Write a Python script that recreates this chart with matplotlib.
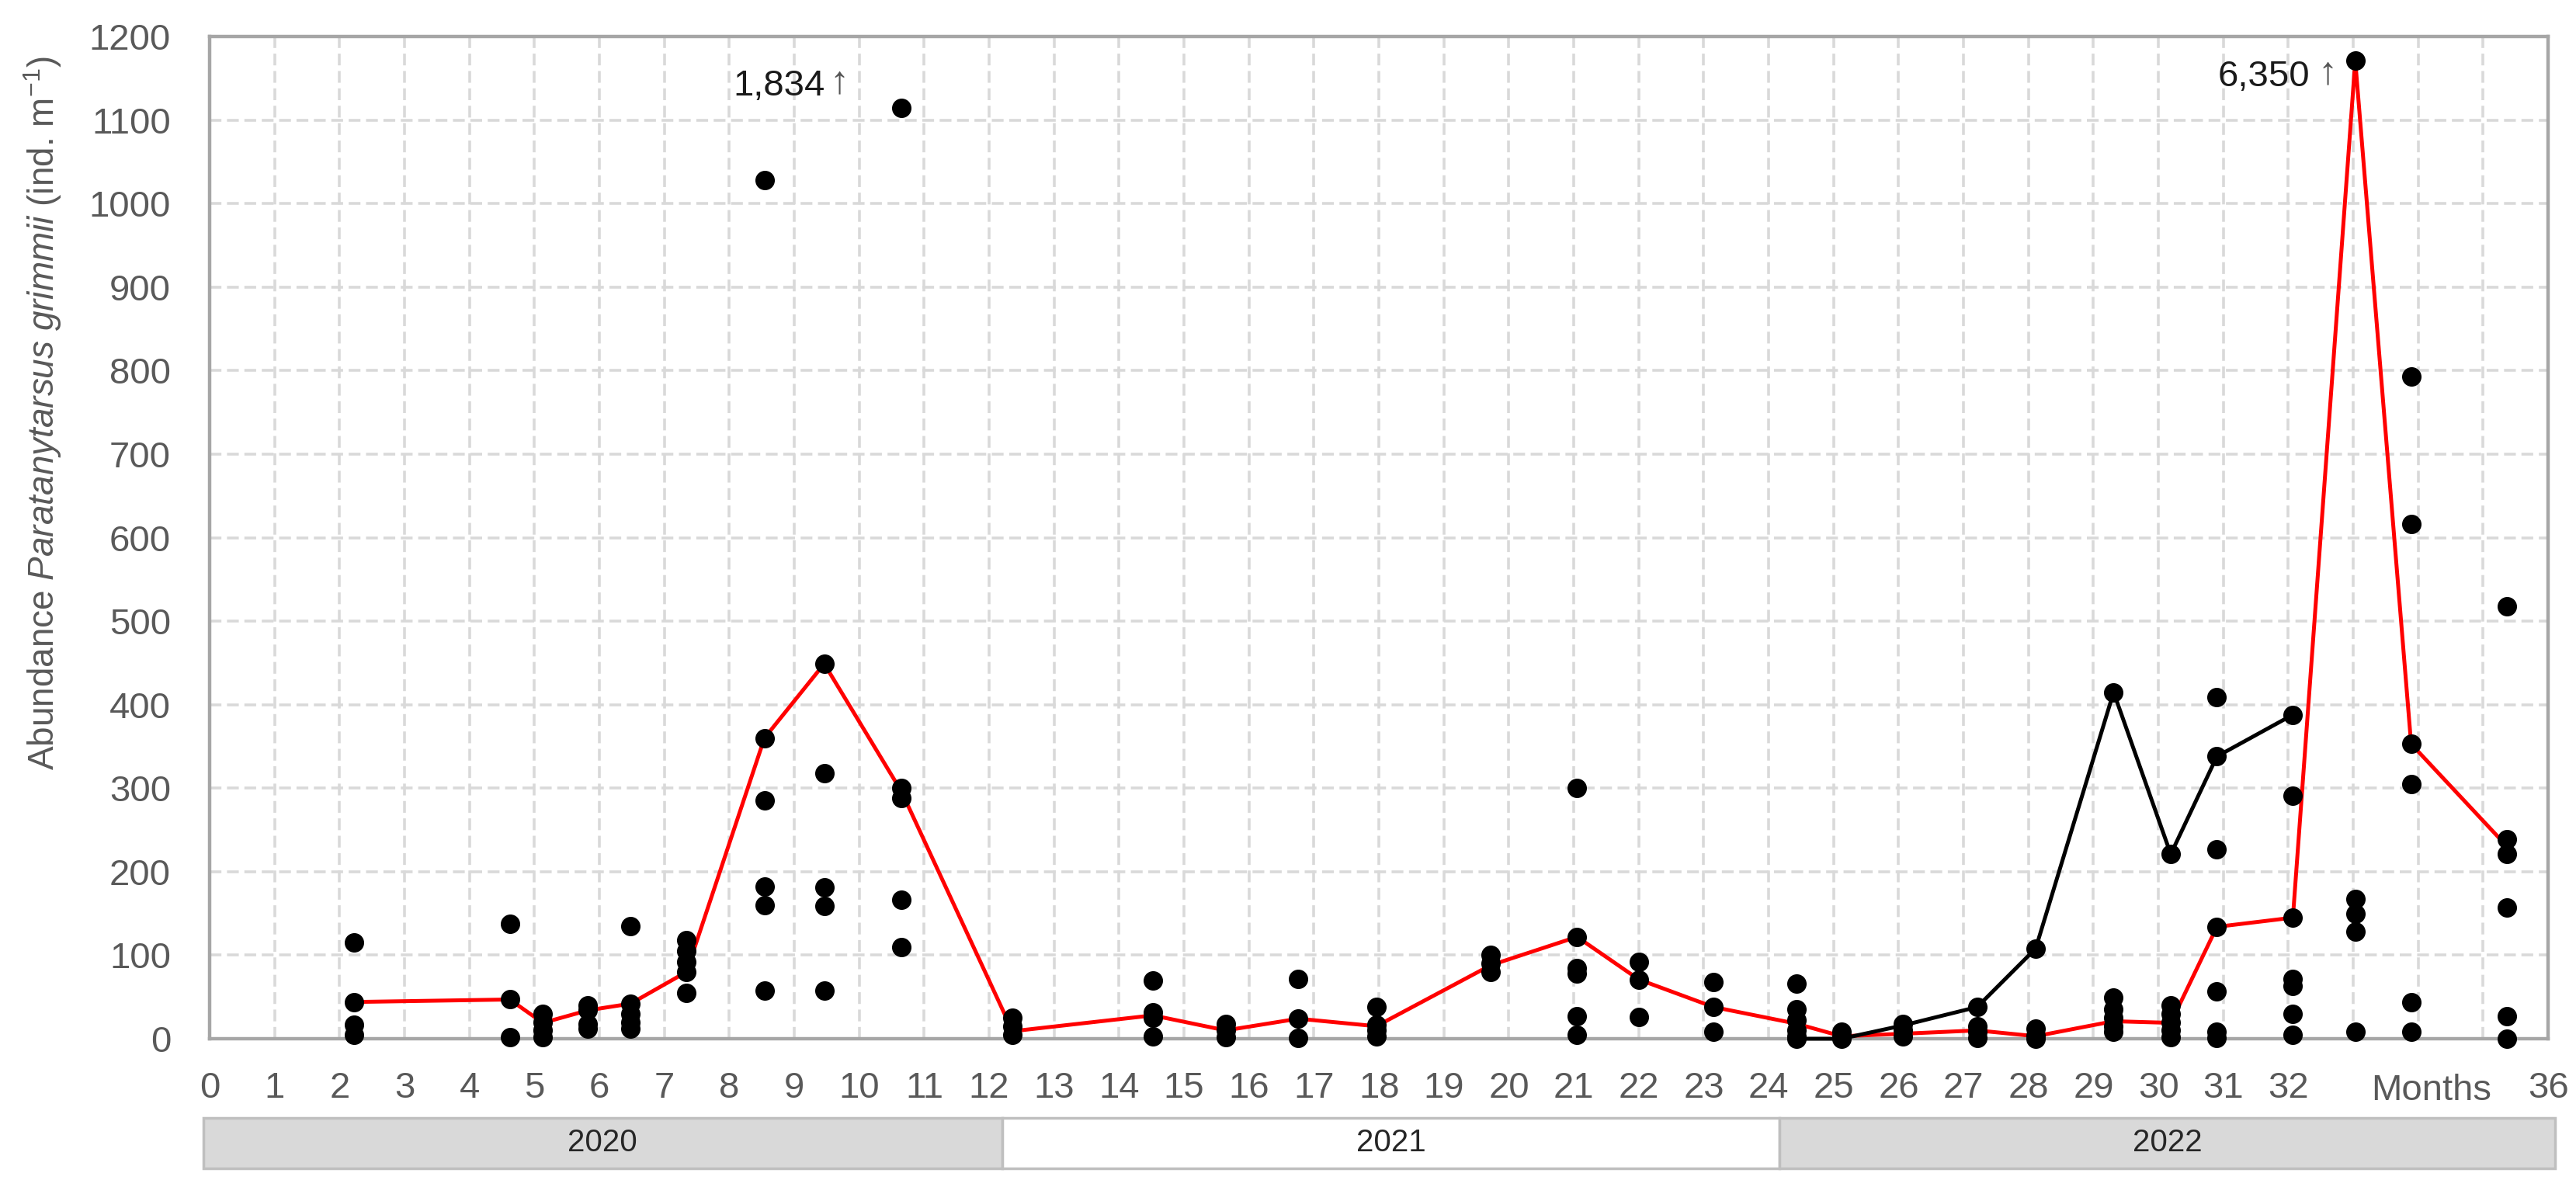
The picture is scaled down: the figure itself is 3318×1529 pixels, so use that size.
import matplotlib
matplotlib.use("Agg")
import matplotlib.pyplot as plt
from matplotlib import font_manager
from matplotlib.patches import Rectangle
import numpy as np

# sampling dates (months since start) and the replicate abundances at each date
sample_months = [2.22, 4.62, 5.13, 5.82, 6.48, 7.34, 8.54, 9.46, 10.65, 12.36,
                 14.52, 15.64, 16.76, 17.96, 19.72, 21.05, 22.0, 23.15, 24.43, 25.12,
                 26.07, 27.21, 28.11, 29.31, 30.19, 30.9, 32.07, 33.03, 33.89, 35.37]
sample_values = [
    [115, 44, 17, 5],
    [138, 47, 2],
    [30, 20, 10, 2],
    [40, 34, 18, 12],
    [135, 42, 30, 20, 12],
    [118, 105, 92, 80, 55],
    [1028, 360, 285, 182, 160, 58],
    [449, 318, 181, 159, 58],
    [1115, 300, 288, 166, 110],
    [25, 15, 5],
    [70, 32, 25, 3],
    [18, 10, 2],
    [72, 24, 1],
    [38, 17, 10, 3],
    [100, 90, 80],
    [300, 122, 85, 78, 27, 5],
    [92, 71, 26],
    [68, 38, 8],
    [66, 35, 22, 10, 3, 0],
    [8, 3, 0],
    [18, 10, 3],
    [38, 15, 8, 1],
    [108, 12, 4, 0],
    [415, 49, 35, 25, 15, 8],
    [221, 40, 30, 20, 10, 2],
    [409, 338, 227, 134, 57, 8, 1],
    [388, 291, 145, 72, 63, 30, 5],
    [1171, 167, 150, 128, 8],
    [793, 616, 353, 305, 44, 8],
    [518, 239, 221, 157, 27, 0],
]

# median line (red) and second line (black)
red_months = sample_months
red_values = [44, 47, 19, 34, 42, 80, 360, 449, 296, 9,
              28, 10, 24, 15, 88, 122, 71, 38, 18, 3,
              6, 10, 3, 21, 19, 134, 145, 1171, 353, 230]
black_months = [24.43, 25.12, 26.07, 27.21, 28.11, 29.31, 30.19, 30.9, 32.07]
black_values = [0, 0, 16, 38, 108, 415, 221, 338, 388]

year_labels = ['2020', '2021', '2022']
year_starts = [-0.1, 12.2, 24.17]
year_ends = [12.2, 24.17, 36.1]
year_colors = ['#d9d9d9', 'white', '#d9d9d9']

offscale_labels = ['1,834', '6,350']

names = {f.name for f in font_manager.fontManager.ttflist}
narrow = 'Liberation Sans Narrow' if 'Liberation Sans Narrow' in names else 'Liberation Sans'

plt.rcParams['font.family'] = ['Liberation Sans', 'DejaVu Sans']
plt.rcParams['mathtext.fontset'] = 'custom'
plt.rcParams['mathtext.rm'] = 'Liberation Sans'
plt.rcParams['mathtext.it'] = 'Liberation Sans:italic'

grey_text = '#595959'

fig = plt.figure(figsize=(33.18, 15.29), dpi=100)
ax = fig.add_axes([0.0814, 0.1249, 0.9078, 0.8443])
ax.set_xlim(0, 36)
ax.set_ylim(0, 1200)

ax.set_xticks(range(37))
ax.set_xticklabels([str(i) if (i <= 32 or i == 36) else '' for i in range(37)])
ax.set_yticks(range(0, 1201, 100))
ax.tick_params(length=0, labelsize=34, labelcolor=grey_text)
ax.tick_params(axis='x', pad=30)
ax.tick_params(axis='y', pad=36)

ax.grid(True, color='#d9d9d9', lw=2.6, linestyle=(0, (4.2, 2)))
ax.set_axisbelow(True)
for s in ax.spines.values():
    s.set_color('#a6a6a6')
    s.set_linewidth(3.2)

# lines first, dots on top
ax.plot(red_months, red_values, color='#ff0000', lw=3.6, zorder=3, clip_on=False)
ax.plot(black_months, black_values, color='black', lw=3.6, zorder=3, clip_on=False)

xs = np.repeat(sample_months, [len(v) for v in sample_values])
ys = np.concatenate([np.array(v, dtype=float) for v in sample_values])
ax.plot(xs, ys, 'o', color='black', ms=17, zorder=4, clip_on=False)

# off-scale values
ax.text(9.47, 1141, offscale_labels[0], ha='right', va='center', fontsize=34,
        family=[narrow, 'DejaVu Sans'], color='#1a1a1a')
ax.text(9.69, 1145, '\u2191', ha='center', va='center', fontsize=36,
        family=['Liberation Sans', 'DejaVu Sans'], color='#555555')
ax.text(32.33, 1152, offscale_labels[1], ha='right', va='center', fontsize=34,
        family=[narrow, 'DejaVu Sans'], color='#1a1a1a')
ax.text(32.6, 1156, '\u2191', ha='center', va='center', fontsize=36,
        family=['Liberation Sans', 'DejaVu Sans'], color='#555555')

# axis labels
trans = ax.get_xaxis_transform()
ax.text(34.2, -0.052, 'Months', transform=trans, ha='center', va='center',
        fontsize=34, color=grey_text)
fig.text(55 / 3318, 1 - 532 / 1529,
         r'Abundance $\mathit{Paratanytarsus\ grimmii}$ (ind. m$^{-1}$)',
         rotation=90, ha='center', va='center', fontsize=33, color=grey_text)

# year bar under the axis
for lab, x0, x1, fc in zip(year_labels, year_starts, year_ends, year_colors):
    ax.add_patch(Rectangle((x0, -0.129), x1 - x0, 0.05, transform=trans,
                           facecolor=fc, edgecolor='#bfbfbf', lw=2.5, clip_on=False))
    ax.text((x0 + x1) / 2, -0.104, lab, transform=trans, ha='center', va='center',
            fontsize=29, color='#262626')

fig.savefig('out.png', dpi=100)
